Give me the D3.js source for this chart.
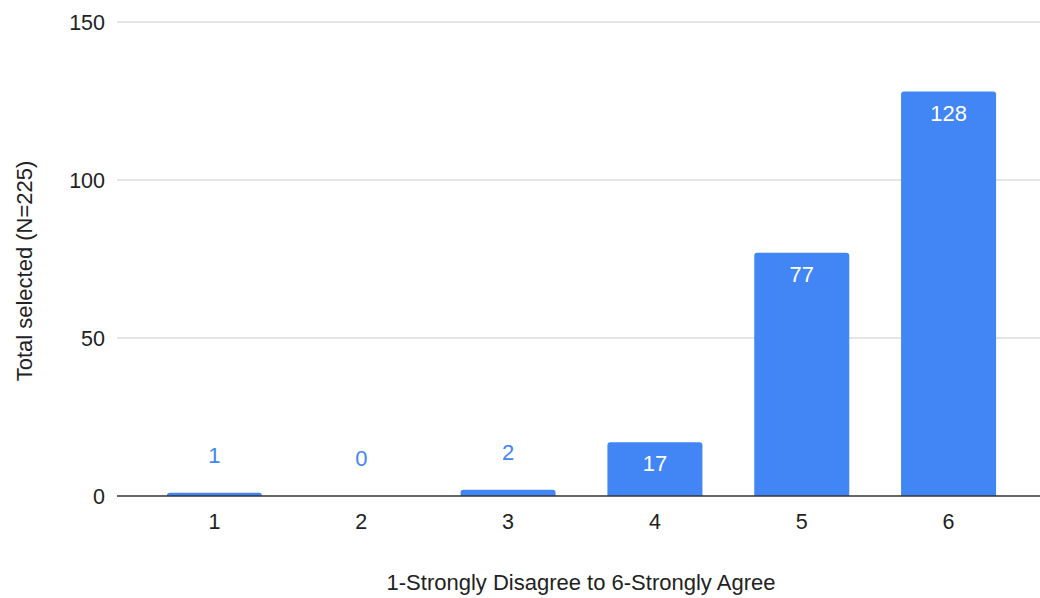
<!DOCTYPE html>
<html>
<head>
<meta charset="utf-8">
<script src="https://cdn.jsdelivr.net/npm/d3@7"></script>
<style>
  html, body { margin: 0; padding: 0; background: #fff; }
  svg { display: block; }
  text { font-family: "Liberation Sans", Arial, sans-serif; }
</style>
</head>
<body>
<svg id="chart" width="1040" height="598"></svg>
<script>
// Responses on a 1–6 agreement scale
const categories = ["1", "2", "3", "4", "5", "6"];
const counts = [1, 0, 2, 17, 77, 128];
const yTicks = [0, 50, 100, 150];
const xTitle = "1-Strongly Disagree to 6-Strongly Agree";
const yTitle = "Total selected (N=225)";

const svg = d3.select("#chart");
const plot = { left: 117, right: 1040, top: 22, bottom: 496 };
const barColor = "#4285f4";

const x = d3.scaleBand()
  .domain(categories)
  .range([141, 1022])
  .paddingInner(0.353)
  .paddingOuter(0.1765);

const y = d3.scaleLinear()
  .domain([0, 150])
  .range([plot.bottom, plot.top]);

// horizontal gridlines
svg.append("g")
  .selectAll("line")
  .data(yTicks.filter(d => d !== 0))
  .join("line")
  .attr("x1", plot.left).attr("x2", plot.right)
  .attr("y1", d => y(d)).attr("y2", d => y(d))
  .attr("stroke", "#cccccc").attr("stroke-width", 1.2);

// y tick labels
svg.append("g")
  .selectAll("text")
  .data(yTicks)
  .join("text")
  .attr("x", 105)
  .attr("y", d => y(d))
  .attr("dy", "0.35em")
  .attr("text-anchor", "end")
  .attr("font-size", 21.5)
  .attr("fill", "#222")
  .text(d => d);

// bars with rounded top corners
function barPath(x0, w, top, bottom, r) {
  const h = bottom - top;
  const rr = Math.min(r, h, w / 2);
  if (h <= 0) return "";
  return `M${x0},${bottom}V${top + rr}Q${x0},${top} ${x0 + rr},${top}` +
         `H${x0 + w - rr}Q${x0 + w},${top} ${x0 + w},${top + rr}V${bottom}Z`;
}

const rows = categories.map((c, i) => ({ c, v: counts[i] }));

svg.append("g")
  .selectAll("path")
  .data(rows)
  .join("path")
  .attr("d", d => barPath(x(d.c), x.bandwidth(), y(d.v), y(0), 3))
  .attr("fill", barColor);

// value labels: inside tall bars, above short ones
const inside = d => y(0) - y(d.v) > 40;
svg.append("g")
  .selectAll("text")
  .data(rows)
  .join("text")
  .attr("x", d => x(d.c) + x.bandwidth() / 2)
  .attr("y", d => inside(d) ? y(d.v) + 29 : y(d.v) - 30)
  .attr("text-anchor", "middle")
  .attr("font-family", "Roboto, 'Liberation Sans', sans-serif")
  .attr("font-weight", 500)
  .attr("font-size", 22)
  .attr("fill", d => inside(d) ? "#ffffff" : barColor)
  .text(d => d.v);

// baseline
svg.append("line")
  .attr("x1", plot.left).attr("x2", plot.right)
  .attr("y1", y(0)).attr("y2", y(0))
  .attr("stroke", "#333").attr("stroke-width", 1.5);

// x tick labels
svg.append("g")
  .selectAll("text")
  .data(categories)
  .join("text")
  .attr("x", d => x(d) + x.bandwidth() / 2)
  .attr("y", 529)
  .attr("text-anchor", "middle")
  .attr("font-size", 21.5)
  .attr("fill", "#222")
  .text(d => d);

// axis titles
svg.append("text")
  .attr("x", 581).attr("y", 590)
  .attr("text-anchor", "middle")
  .attr("font-size", 22)
  .attr("fill", "#222")
  .text(xTitle);

svg.append("text")
  .attr("transform", "translate(32,271) rotate(-90)")
  .attr("text-anchor", "middle")
  .attr("font-size", 22)
  .attr("fill", "#222")
  .text(yTitle);
</script>
</body>
</html>
